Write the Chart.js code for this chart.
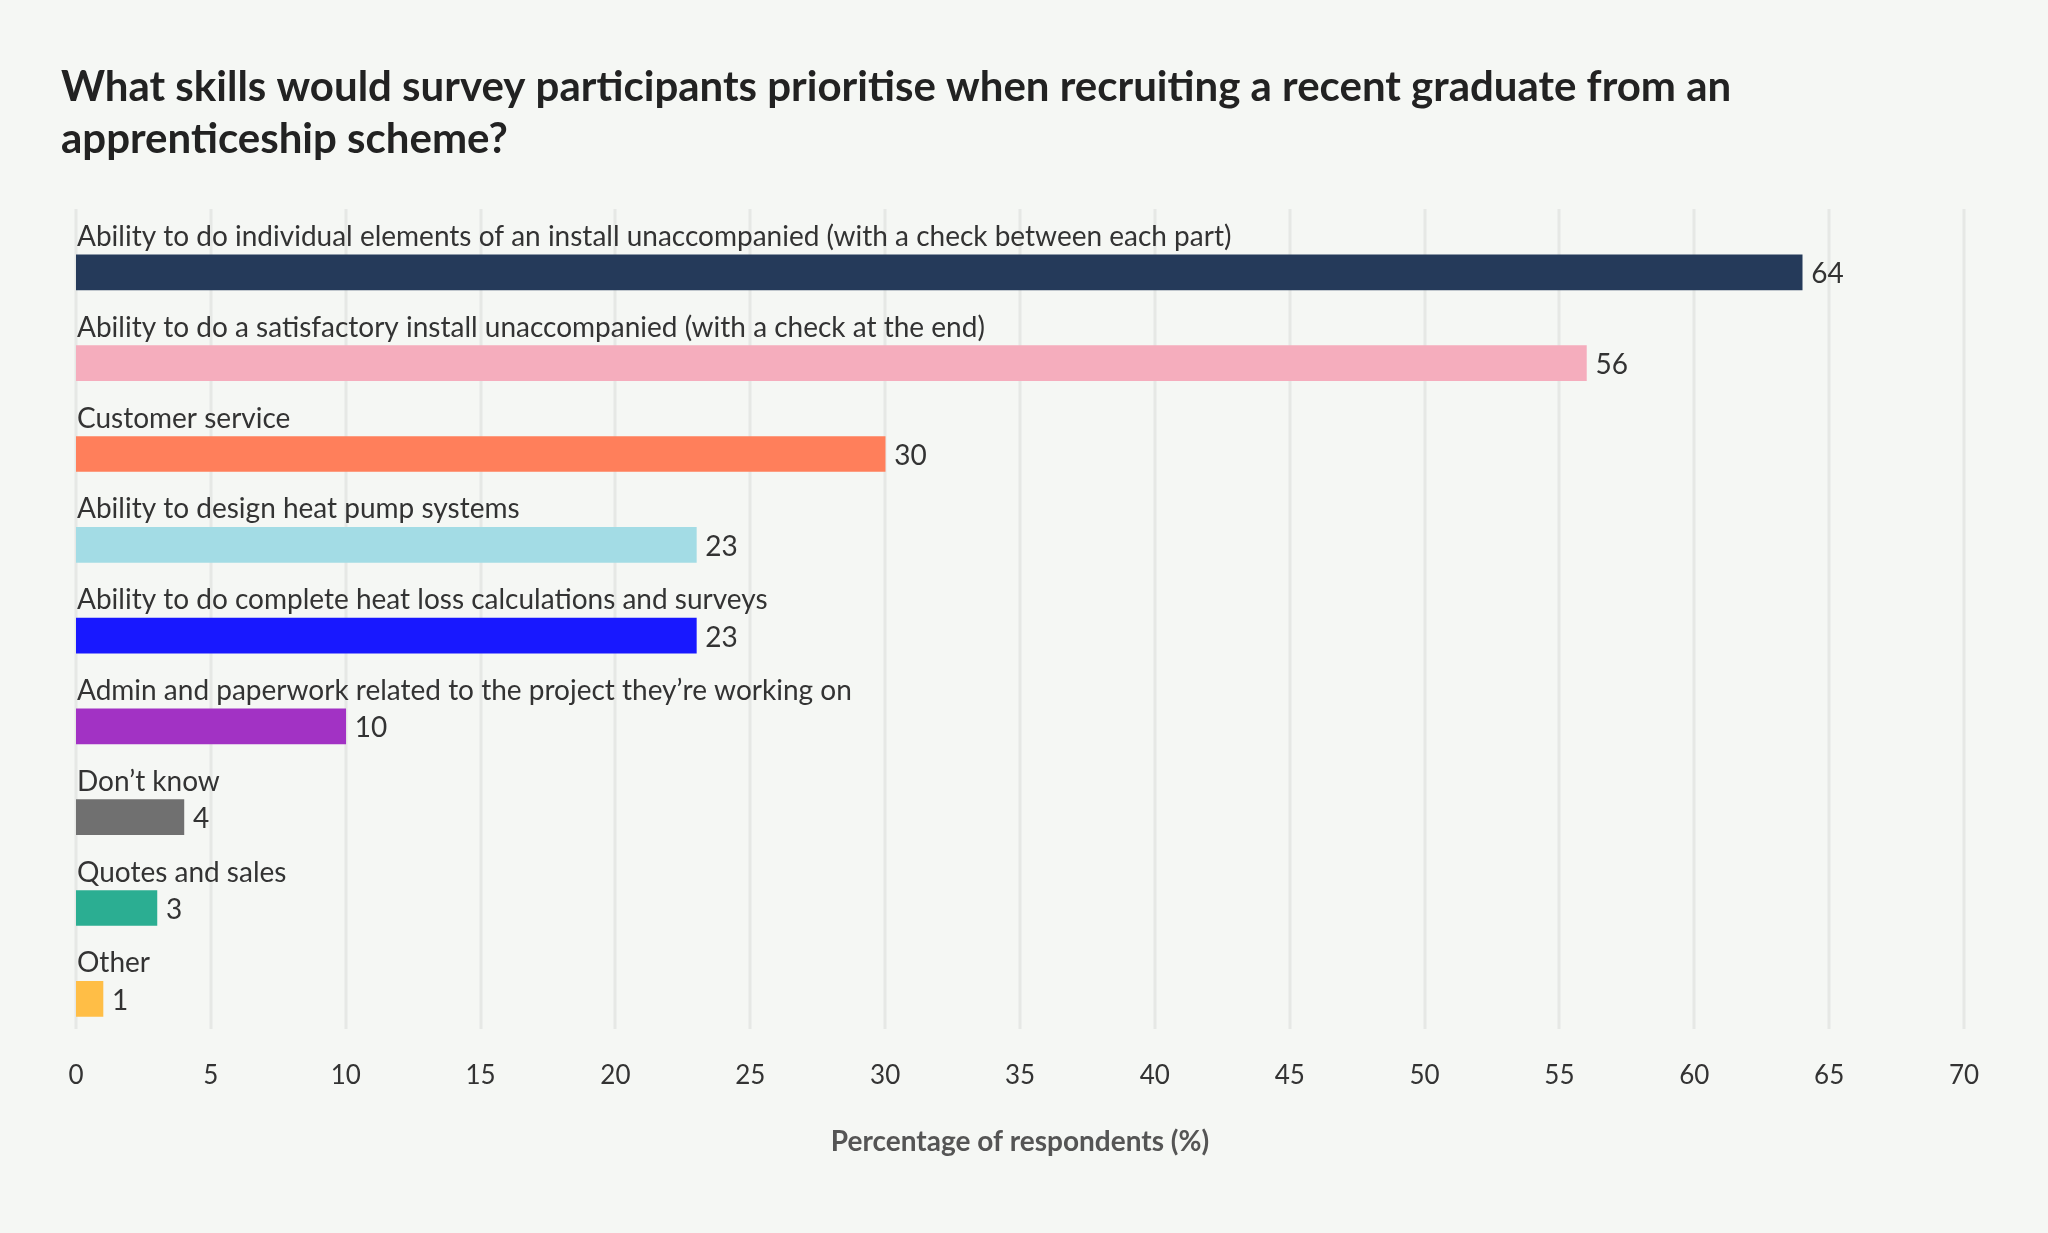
<!DOCTYPE html>
<html><head><meta charset="utf-8">
<script src="https://cdn.jsdelivr.net/npm/chart.js@4"></script>
<style>html,body{margin:0;padding:0;background:#f5f7f4;}#wrap{width:2048px;height:1233px;position:relative;}</style>
</head><body><div id="wrap"><canvas id="c"></canvas></div>
<script>
const categories = [
 "Ability to do individual elements of an install unaccompanied (with a check between each part)",
 "Ability to do a satisfactory install unaccompanied (with a check at the end)",
 "Customer service",
 "Ability to design heat pump systems",
 "Ability to do complete heat loss calculations and surveys",
 "Admin and paperwork related to the project they’re working on",
 "Don’t know",
 "Quotes and sales",
 "Other"];
const values = [64,56,30,23,23,10,4,3,1];
const colors = ["#253a5a","#f5adbd","#ff7f5b","#a3dce5","#1818ff","#a232c4","#707070","#2bae92","#ffbe46"];
const titleLines = ["What skills would survey participants prioritise when recruiting a recent graduate from an","apprenticeship scheme?"];
const FONT = "Lato, 'Open Sans', sans-serif";
const deco = {
 id:'deco',
 beforeDatasetsDraw(ch){
  const c=ch.ctx, x=ch.scales.x;
  c.save(); c.strokeStyle='#e6e8e5'; c.lineWidth=3;
  for(let v=0;v<=70;v+=5){const px=Math.round(x.getPixelForValue(v));c.beginPath();c.moveTo(px,209);c.lineTo(px,1029);c.stroke();}
  c.restore();
 },
 afterDatasetsDraw(ch){
  const c=ch.ctx; c.save();
  c.fillStyle='#222'; c.font="bold 42px "+FONT; c.textBaseline='alphabetic'; c.textAlign='left';
  c.fillText(titleLines[0],61,101); c.fillText(titleLines[1],61,153);
  const meta=ch.getDatasetMeta(0);
  c.font="28px "+FONT; c.fillStyle='#333';
  meta.data.forEach((b,i)=>{
   const top=b.y-b.height/2;
   c.textBaseline='bottom'; c.fillText(categories[i],77,top-4);
   c.textBaseline='middle'; c.fillText(String(values[i]),b.x+9,b.y+2);
  });
  c.restore();
 }
};
new Chart(document.getElementById('c'),{
 type:'bar',
 data:{labels:categories,datasets:[{data:values,backgroundColor:colors,barThickness:35}]},
 options:{indexAxis:'y',responsive:true,maintainAspectRatio:false,animation:false,
  layout:{padding:{top:227,left:76,right:84,bottom:70}},
  plugins:{legend:{display:false},tooltip:{enabled:false}},
  scales:{
   y:{display:false},
   x:{min:0,max:70,grid:{display:false},border:{display:false},
      ticks:{stepSize:5,color:'#333',font:{family:FONT,size:26},padding:8},
      title:{display:true,text:'Percentage of respondents (%)',color:'#555',font:{family:FONT,size:28,weight:'bold'},padding:{top:26}}}
  }},
 plugins:[deco]
});
</script></body></html>
